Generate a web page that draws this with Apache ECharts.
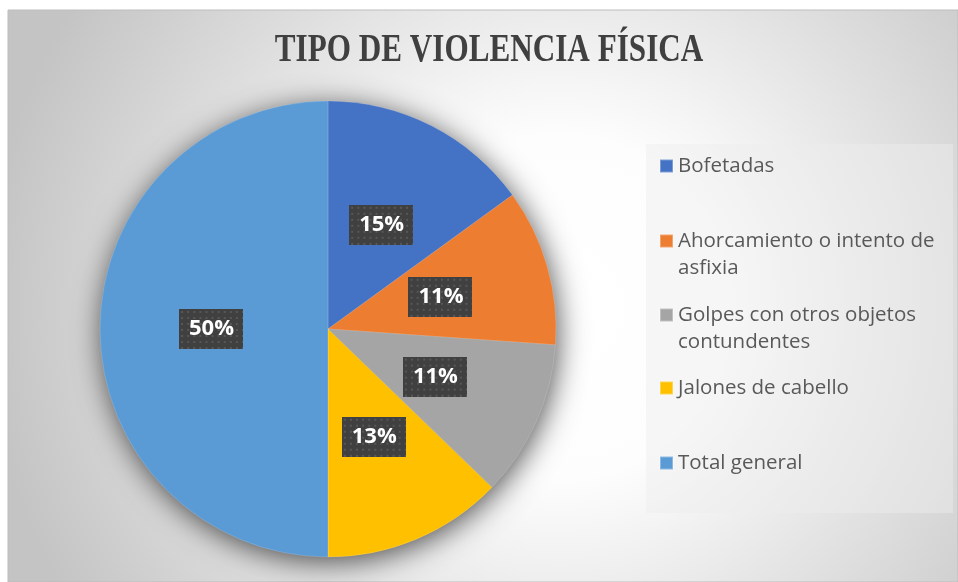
<!DOCTYPE html>
<html>
<head>
<meta charset="utf-8">
<script src="https://cdn.jsdelivr.net/npm/echarts@6/dist/echarts.min.js"></script>
<style>
html,body{margin:0;padding:0;background:#fff;}
#chart{width:958px;height:582px;}
</style>
</head>
<body>
<div id="chart"></div>
<script>
const titleText = 'TIPO DE VIOLENCIA FÍSICA';
const categories = ['Bofetadas', 'Ahorcamiento o intento de asfixia', 'Golpes con otros objetos contundentes', 'Jalones de cabello', 'Total general'];
const values = [27, 20, 20, 23, 90];
const colors = ['#4472C4', '#ED7D31', '#A5A5A5', '#FFC000', '#5B9BD5'];

function wrap(name, maxChars) {
  const words = name.split(' ');
  const lines = [];
  let cur = '';
  words.forEach(w => {
    const t = cur ? cur + ' ' + w : w;
    if (t.length > maxChars && cur) { lines.push(cur); cur = w; } else { cur = t; }
  });
  if (cur) lines.push(cur);
  return lines;
}

// dotted label background
const pat = document.createElement('canvas');
pat.width = 63; pat.height = 40;
(function(){
  const c = pat.getContext('2d');
  c.fillStyle = '#404040';
  c.fillRect(0, 0, 63, 40);
  c.fillStyle = '#575757';
  for (let y = 2; y < 40; y += 6) {
    for (let x = 2; x < 63; x += 6) {
      c.fillRect(x, y, 2, 2);
    }
  }
})();

const legendCenters = [166, 241, 315, 388, 463];
const lineH = 27;
const legends = categories.map((name, i) => {
  const lines = wrap(name, 25);
  const nLines = lines.length > 1 ? lines.length * 2 - 1 : 1;
  const h = nLines * lineH;
  return {
    show: true,
    orient: 'vertical',
    left: 659,
    top: legendCenters[i] - h / 2,
    padding: 0,
    itemWidth: 13,
    itemHeight: 13,
    icon: 'rect',
    data: [name],
    formatter: function (n) {
      const ls = wrap(n, 25);
      if (ls.length > 1) {
        return '\n'.repeat(ls.length - 1) + ls.join('\n');
      }
      return ls[0];
    },
    textStyle: {
      fontFamily: 'Open Sans',
      fontSize: 20.5,
      lineHeight: lineH,
      color: '#595959'
    }
  };
});

const chart = echarts.init(document.getElementById('chart'), null, {renderer: 'canvas'});
chart.setOption({
  animation: false,
  color: colors,
  graphic: [
    {
      type: 'rect', z: 0, silent: true,
      shape: {x: 8, y: 10, width: 950, height: 572},
      style: {
        fill: {
          type: 'radial', x: 0.58, y: 0.52, r: 1.0,
          colorStops: [
            {offset: 0, color: '#ffffff'},
            {offset: 0.3, color: '#fdfdfd'},
            {offset: 0.65, color: '#e0e0e0'},
            {offset: 1, color: '#c4c4c4'}
          ]
        },
        stroke: '#bdbdbd', lineWidth: 1
      }
    },
    {
      type: 'rect', z: 1, silent: true,
      shape: {x: 646, y: 144, width: 307, height: 369},
      style: {fill: 'rgba(238,238,238,0.45)'}
    },
    {
      type: 'text', z: 5, silent: true,
      x: 489, y: 50, scaleX: 0.76,
      style: {
        text: titleText,
        fontFamily: 'Liberation Serif',
        fontWeight: 'bold',
        fontSize: 41,
        fill: '#404040',
        align: 'center',
        verticalAlign: 'middle'
      }
    }
  ],
  legend: legends,
  series: [
    {
      type: 'pie',
      silent: true,
      z: 1,
      center: [328, 329],
      radius: 227,
      label: {show: false},
      labelLine: {show: false},
      itemStyle: {
        color: '#808080',
        shadowBlur: 30,
        shadowColor: 'rgba(0,0,0,0.7)',
        shadowOffsetX: 2,
        shadowOffsetY: 5
      },
      data: [{value: 1, name: '__shadow__'}]
    },
    {
      type: 'pie',
      z: 2,
      center: [328, 329],
      radius: 228,
      startAngle: 90,
      clockwise: true,
      itemStyle: {borderColor: 'rgba(255,255,255,0.3)', borderWidth: 0.5},
      label: {
        show: true,
        position: 'inside',
        formatter: p => Math.round(p.percent) + '%',
        color: '#ffffff',
        fontFamily: 'Open Sans',
        fontWeight: 'bold',
        fontSize: 22,
        lineHeight: 24,
        backgroundColor: {image: pat},
        padding: [8, 9, 8, 10],
        shadowBlur: 6,
        shadowColor: 'rgba(0,0,0,0.6)',
        shadowOffsetX: 3,
        shadowOffsetY: 3
      },
      labelLine: {show: false},
      emphasis: {disabled: true},
      data: categories.map((c, i) => ({name: c, value: values[i]}))
    }
  ]
});
</script>
</body>
</html>
